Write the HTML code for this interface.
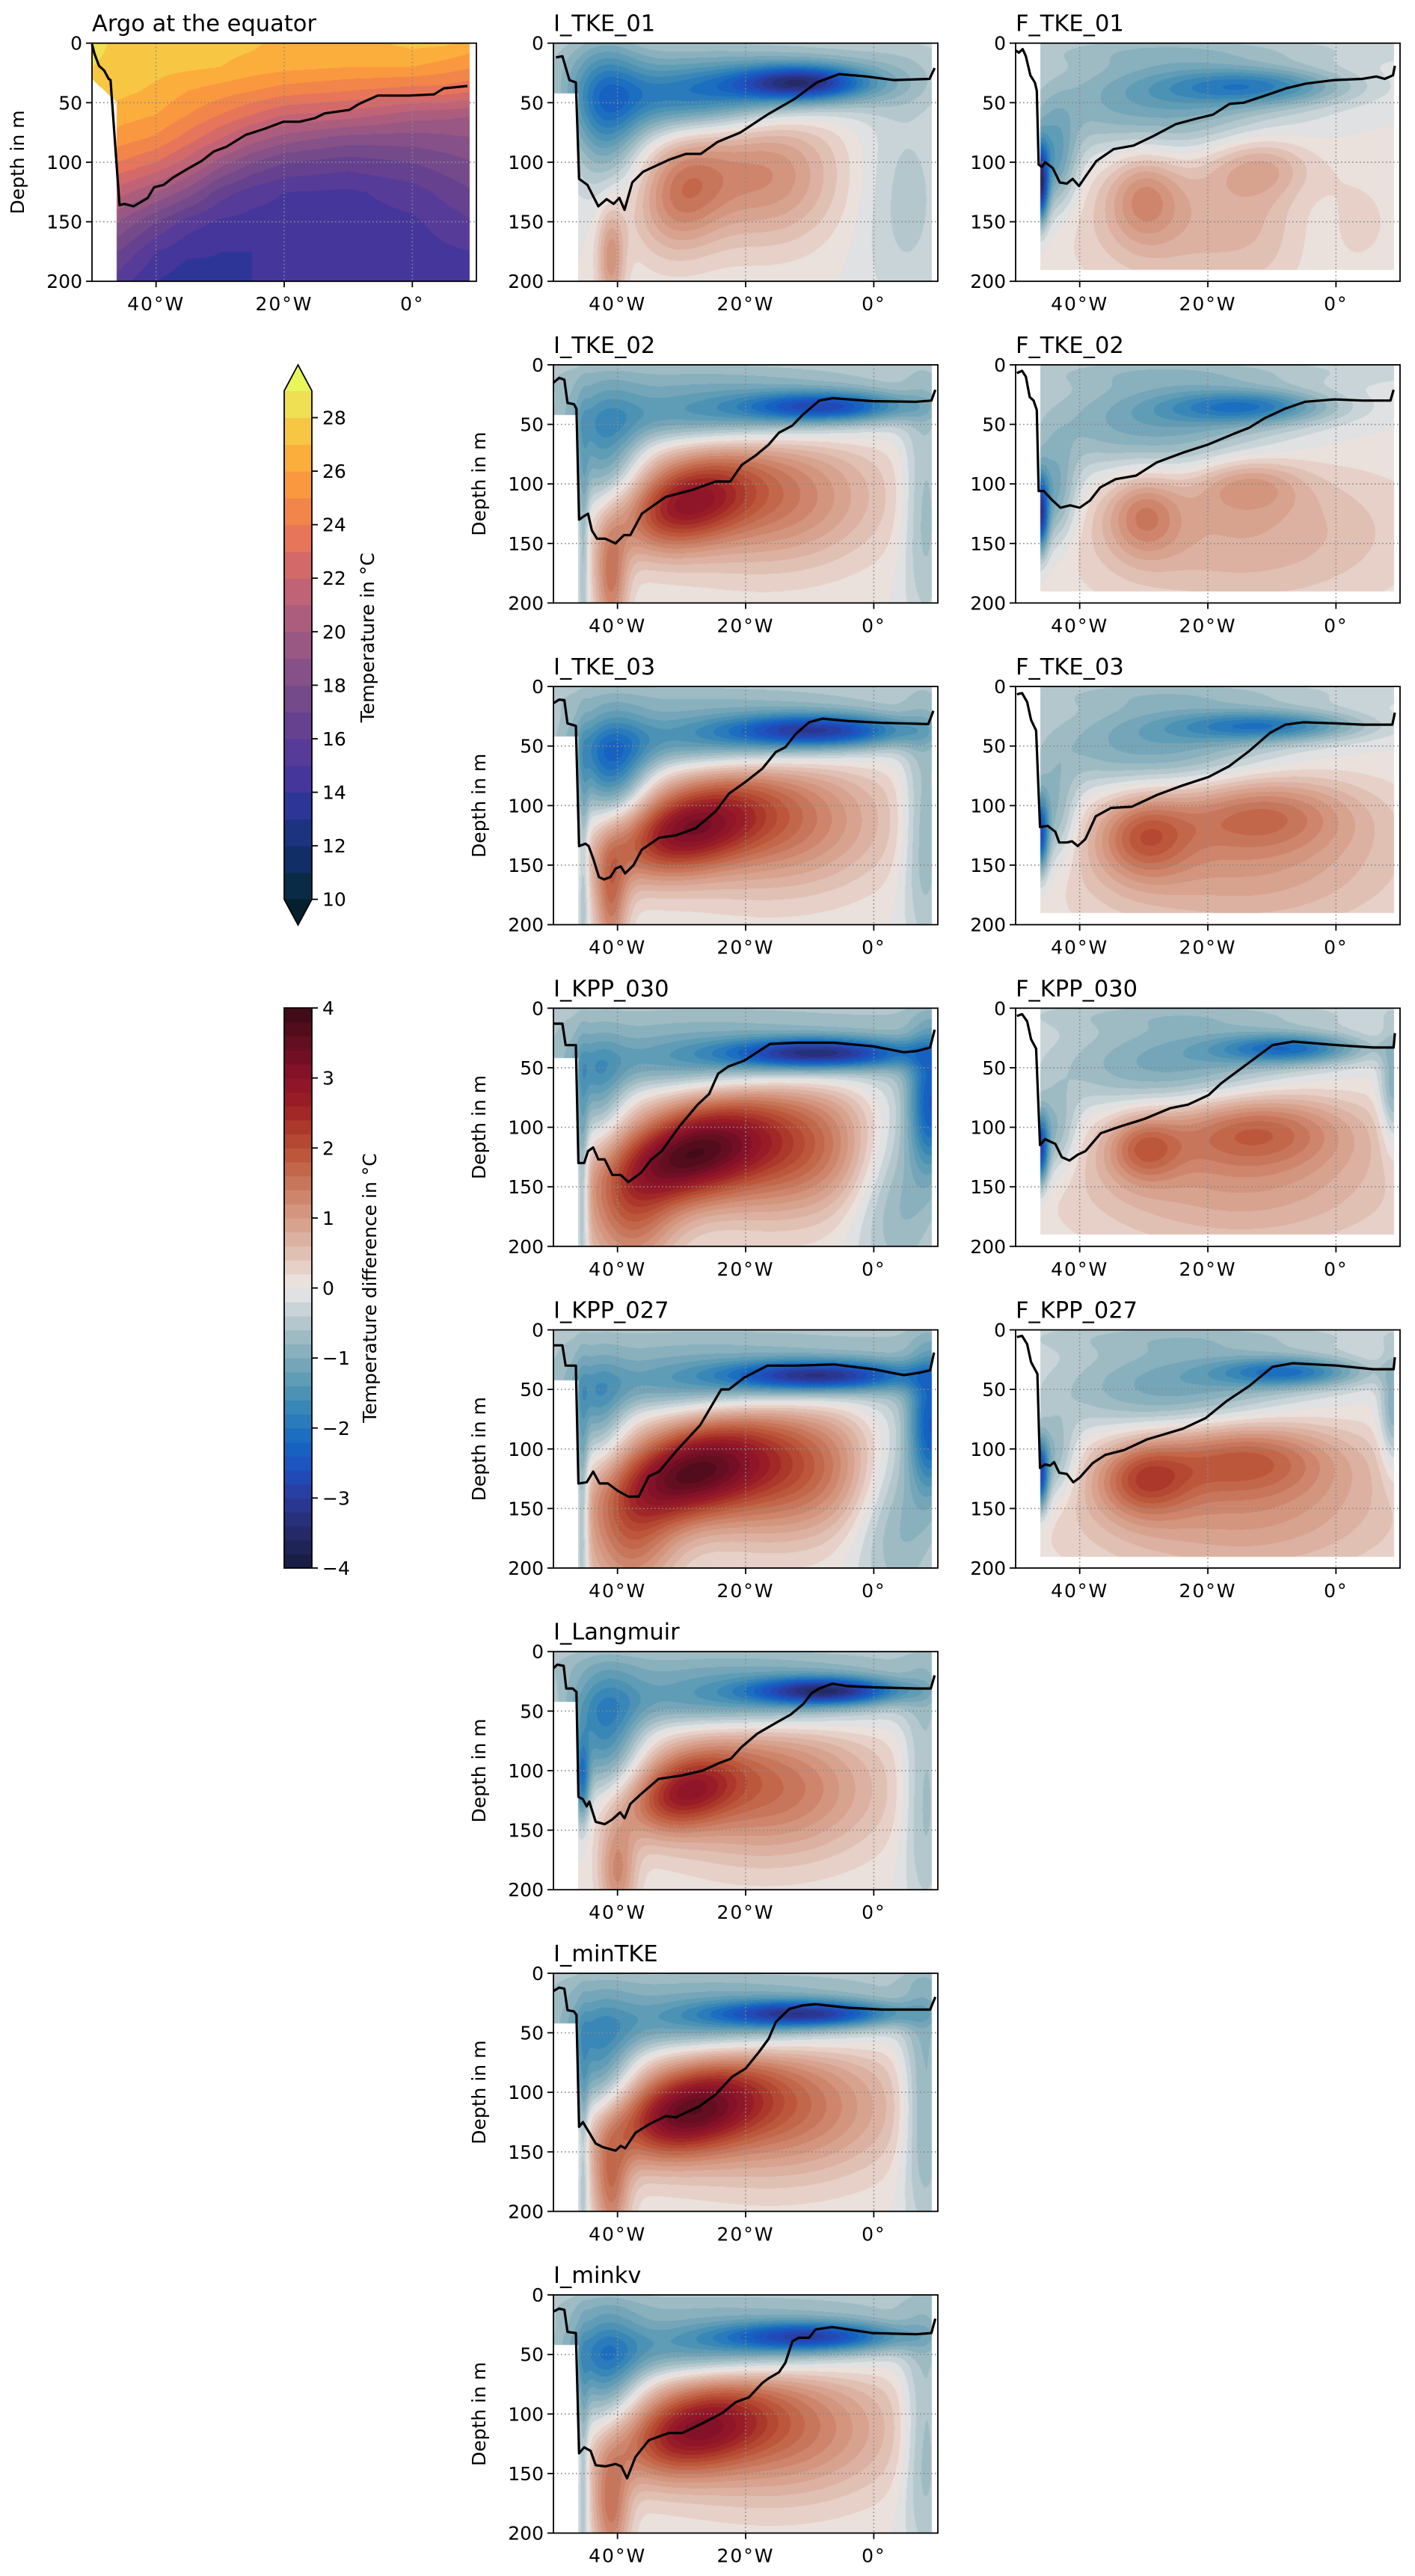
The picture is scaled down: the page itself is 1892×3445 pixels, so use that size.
<!DOCTYPE html>
<html><head><meta charset="utf-8">
<style>
html,body{margin:0;padding:0;background:#fff;}
#page{position:relative;width:1892px;height:3445px;overflow:hidden;background:#fff;}
canvas{position:absolute;}
#ov{position:absolute;left:0;top:0;}
text{font-family:"DejaVu Sans","Liberation Sans",sans-serif;fill:#000;}
</style></head>
<body>
<div id="page">
<svg id="ov" width="1892" height="3445"></svg>
</div>
<script>
// ---------------- data ----------------
const tempLevels = [10,11,12,13,14,15,16,17,18,19,20,21,22,23,24,25,26,27,28,29];
const tempTicks = [10,12,14,16,18,20,22,24,26,28];
const diffTicks = [-4,-3,-2,-1,0,1,2,3,4];
const lonTicks = [-40,-20,0];
const lonTickLabels = ["40°W","20°W","0°"];
const depthTicks = [0,50,100,150,200];

// Argo temperature grid (lon nodes x depth nodes)
const argoLon = [-50,-46,-40,-35,-30,-25,-20,-10,0,5,10];
const argoDepth = [0,20,40,60,80,100,125,150,175,200];
const argoTemp = [
 [28.6,27.6,27.5,27.5,27.4,27.2,26.6,26.5,27.3,27.2,26.5],
 [28.0,27.5,27.3,27.2,27.0,26.6,26.3,26.0,26.0,25.5,25.0],
 [27.5,27.3,26.8,26.0,25.5,25.0,24.5,24.0,23.5,23.5,23.0],
 [26.5,26.5,26.0,25.0,24.0,23.0,22.0,21.5,20.5,20.3,20.0],
 [25.5,25.5,24.8,23.5,22.0,20.5,19.5,18.5,18.5,18.7,19.0],
 [24.0,24.0,23.0,21.5,19.5,18.0,17.0,16.5,17.0,17.5,18.0],
 [21.5,21.5,20.0,18.5,16.5,15.5,15.0,14.8,15.5,16.3,17.0],
 [19.0,19.0,17.0,15.5,14.8,14.6,14.5,14.5,14.8,15.4,16.0],
 [17.0,17.0,15.0,14.2,14.0,14.0,14.0,14.2,14.5,14.8,15.0],
 [15.5,15.5,14.0,13.3,13.8,14.0,14.0,14.0,14.2,14.6,15.0]
];
const mld_Argo = [[-50,1],[-49.6,9],[-48.9,19],[-48.1,23],[-47.4,30],[-47.1,31],[-45.7,136],[-44.95,135],[-43.5,137],[-41.3,130],[-40.3,121],[-38.8,119],[-37.4,113],[-34.9,105],[-32.9,99],[-31,91],[-29,87],[-26,77],[-23.1,72],[-20.1,66],[-17.6,66],[-15.2,63],[-13.7,59],[-9.8,56],[-8.3,51],[-5.4,44],[-2.9,44],[-0.5,44],[3.4,43],[4.9,38],[8.6,36]];

// Blobs: [lon, depth, amplitude(°C), sigmaLon, sigmaDepth, tilt]
const blobs_I_TKE_01 = [[-11,33,-2.2,7,10,0],[-20,38,-1.3,16,16,0],[-30,55,-1.1,10,20,0],[-42,60,-1.4,4,40,0],[-25,10,-0.6,30,18,0],[-30,125,1.3,5,35,-1.0],[-17,110,1.2,8,40,0],[-41,180,1.1,1.5,30,0],[5,130,-0.5,5,70,0]];
const blobs_I_TKE_02 = [[-7,35,-2.1,9,9,0],[-25,42,-1.5,16,18,0],[-42,75,-1.3,4,35,0],[-25,8,-0.6,35,15,0],[-30,118,2.1,7,25,-1.2],[-17,110,1.5,12,40,0],[-41,180,1.4,1.8,35,0],[8,120,-0.8,2.5,70,0],[-45.3,150,-0.8,0.6,60,0]];
const blobs_I_TKE_03 = [[-8,37,-2.4,10,10,0],[-25,45,-1.5,16,18,0],[-41,70,-1.8,4,30,0],[-25,8,-0.6,35,15,0],[-30,122,2.4,8,25,-1.2],[-16,112,1.6,12,40,0],[-41,180,1.4,1.8,35,0],[8,120,-0.9,2.5,70,0],[-45.3,150,-0.8,0.6,60,0]];
const blobs_I_KPP_030 = [[-8,38,-2.6,10,9,0],[-25,45,-1.4,18,18,0],[9,80,-2.2,2.5,40,0],[4,150,-1.0,5,60,0],[-20,8,-0.6,40,18,0],[-30,125,2.9,8,27,-1.1],[-15,115,2.0,11,40,0],[-38,180,1.3,5,35,0],[-45.5,150,-1.2,0.7,60,0],[-43,70,-1.0,3,30,0]];
const blobs_I_KPP_027 = [[-8,38,-2.5,10,9,0],[-25,45,-1.4,18,18,0],[9,80,-2.2,2.5,40,0],[4,150,-1.0,5,60,0],[-20,8,-0.6,40,18,0],[-30,122,2.8,8,27,-1.1],[-15,115,2.0,11,40,0],[-38,180,1.3,5,35,0],[-45.5,150,-1.2,0.7,60,0],[-43,70,-1.0,3,30,0]];
const blobs_I_Langmuir = [[-7,33,-2.6,8,8,0],[-22,40,-1.5,16,18,0],[-42,70,-1.6,4,35,0],[-45.5,110,-1.6,0.8,25,0],[-20,8,-0.6,40,15,0],[-30,118,2.0,6,22,-1.2],[-17,115,1.6,12,40,0],[-40,185,1.2,2,30,0],[8,120,-0.8,2.5,70,0]];
const blobs_I_minTKE = [[-10,34,-2.4,10,8,0],[-25,42,-1.5,16,18,0],[-43,75,-1.4,4,35,0],[-20,8,-0.6,40,15,0],[-30,118,2.6,8,25,-1.1],[-16,112,1.7,13,40,0],[-41,180,1.4,2,35,0],[8,110,-1.1,2.5,70,0],[-45.3,150,-0.8,0.6,60,0]];
const blobs_I_minkv = [[-9,35,-2.2,10,9,0],[-25,45,-1.5,16,18,0],[-42,65,-1.4,4,35,0],[-20,8,-0.6,40,15,0],[-29,115,2.1,8,25,-1.1],[-16,112,1.6,13,40,0],[-41,180,1.4,2,35,0],[8,120,-0.9,2.5,70,0],[-45.3,150,-0.8,0.6,60,0]];
const blobs_F_TKE_01 = [[-12,36,-1.4,10,11,0],[-28,50,-1.2,14,32,0],[-46.2,118,-3.0,0.9,22,0],[-44,100,-1.2,2.5,30,0],[-20,5,-0.4,30,10,0],[-30,128,0.9,4,28,0],[-12,103,0.7,6,18,0],[-18,150,0.7,16,45,0],[-4,150,-0.3,4,40,0]];
const blobs_F_TKE_02 = [[-13,35,-1.5,9,10,0],[-28,50,-1.2,14,32,0],[-46.2,125,-2.7,0.9,22,0],[-44,110,-1.1,2.5,30,0],[-20,5,-0.4,30,10,0],[-30,125,1.0,4,25,0],[-14,100,0.8,6,16,0],[-15,140,0.8,18,45,0]];
const blobs_F_TKE_03 = [[-10,33,-1.6,10,9,0],[-28,50,-1.2,14,30,0],[-46.2,125,-2.3,0.9,22,0],[-44,110,-0.9,2.5,30,0],[-20,5,-0.4,30,10,0],[-30,125,1.3,5,25,0],[-12,105,1.1,10,22,0],[-15,145,1.0,18,45,0]];
const blobs_F_KPP_030 = [[-7,34,-1.8,8,9,0],[-25,50,-1.2,14,30,0],[-46.2,120,-2.5,0.9,20,0],[-44,105,-0.9,2.5,25,0],[9,70,-1.0,1.5,35,0],[-20,5,-0.4,30,10,0],[-30,117,1.2,4,20,0],[-13,100,1.3,10,22,0],[-15,140,1.0,18,45,0]];
const blobs_F_KPP_027 = [[-7,35,-1.7,8,9,0],[-25,50,-1.2,14,30,0],[-46.2,122,-2.5,0.9,20,0],[-44,108,-0.9,2.5,25,0],[9,70,-1.0,1.5,35,0],[-20,5,-0.4,30,10,0],[-30,125,1.4,5,22,0],[-15,105,1.3,10,22,0],[-15,145,1.1,18,45,0]];

// Mixed layer depth lines [lon, depth]
const mld_I_TKE_01 = [[-49.6,12],[-48.6,11],[-47.5,31],[-46.5,33],[-46,114],[-44.7,119],[-43,137],[-41.7,131],[-40.6,135],[-39.7,130],[-38.9,140],[-37.7,117],[-36,108],[-32,98],[-29.3,93],[-27,93],[-24.4,83],[-20.8,75],[-16.6,60],[-12.4,47],[-8.9,33],[-5.4,26],[-1.1,28],[3.1,31],[8.7,30],[9.5,21]];
const mld_I_TKE_02 = [[-50,15],[-49.1,11],[-48.3,12.5],[-47.8,32],[-46.8,33],[-46.4,37],[-46,130],[-45.2,127],[-44.6,125],[-44,139],[-43.2,146],[-41.9,146],[-40.3,150],[-39,143],[-38,143],[-36.2,125],[-32.5,111],[-28.3,105],[-24.7,98],[-22.4,98],[-20.6,84],[-18.4,76],[-16.4,67],[-14.8,57],[-12.7,51],[-11.1,42],[-8.5,30],[-6.4,28],[-0.2,30.5],[6.6,31],[9,30],[9.6,21]];
const mld_I_TKE_03 = [[-50,14],[-49.1,11],[-48.3,11.5],[-47.8,31],[-46.5,33],[-46,134],[-45,132],[-44.5,134],[-43.7,146],[-42.9,160],[-42.1,162],[-41.1,160],[-40.3,153],[-39.5,151],[-38.8,157],[-37.5,150],[-36.2,137],[-33.5,127],[-30.9,125],[-27.8,119],[-24.7,105],[-22.6,90],[-20,80],[-17.4,69],[-15.3,55],[-13.8,51],[-12.2,40],[-10.1,30],[-8,27],[-3.9,29],[1.3,30.5],[8.5,31.5],[9.3,20.5]];
const mld_I_KPP_030 = [[-50,13],[-48.6,13],[-48.1,31],[-46.5,31],[-46.1,130],[-45.2,130],[-44.6,120],[-43.8,117],[-43,127],[-42,127],[-40.8,140],[-39.5,140],[-38.3,146],[-36.3,138],[-34.7,127],[-33.1,120],[-30.3,99],[-27.5,81],[-25.7,72],[-24.3,55],[-22.7,49],[-20.2,44],[-18.2,37],[-16.2,30],[-12.2,29],[-6.2,29],[-0.1,32],[4.7,37],[6.7,36],[8.8,33],[9.5,18]];
const mld_I_KPP_027 = [[-50,13],[-48.6,13],[-48.1,30],[-46.5,30],[-46.1,129],[-44.8,128],[-43.8,119],[-42.8,129],[-41.5,129],[-40,135],[-38.3,140],[-36.7,140],[-35.1,123],[-33.5,119],[-30.7,101],[-27.1,80],[-23.8,50],[-22.6,50],[-20.2,40],[-16.6,30],[-12.2,30],[-6.2,29],[-0.1,33],[4.7,38],[7.1,36],[8.8,34],[9.4,19]];
const mld_I_Langmuir = [[-50,14],[-49.4,11],[-48.4,12],[-48,31],[-47,31],[-46.4,34],[-46.1,122],[-45.4,124],[-44.8,130],[-44.4,126],[-43.4,143],[-42,145],[-40.8,141],[-39.6,135],[-38.9,140],[-38,128],[-36.4,120],[-33.6,107],[-29.9,104],[-26.7,100],[-24.3,94],[-22.3,90],[-20.6,80],[-18.2,69],[-15,59],[-13,53],[-11,44],[-9.7,35],[-8.5,31],[-6.5,27],[-4.1,29],[-0.1,30],[6.7,31],[8.9,31],[9.5,20]];
const mld_I_minTKE = [[-50,15],[-49.1,12],[-48.3,13],[-47.8,31],[-46.8,32],[-46.4,35],[-46,129],[-45.4,125],[-44.4,134],[-43.4,143],[-42.3,146],[-40.3,149],[-39.5,145],[-38.8,147],[-37.2,134],[-35.1,127],[-32.5,120],[-30.9,121],[-27.3,112],[-24.7,102],[-22.1,87],[-20,80],[-17.9,66],[-16.4,55],[-15.3,41],[-13.2,30],[-11.1,27],[-9.1,26],[-3.9,29],[1.3,30.5],[8.8,30.5],[9.6,20]];
const mld_I_minkv = [[-50,14],[-49.1,11.5],[-48.3,12.5],[-47.8,31],[-46.5,32],[-46,133],[-45.2,128],[-44.2,131],[-43.4,143],[-41.9,144],[-40.3,142],[-39.4,144],[-38.5,154],[-37.2,136],[-35.1,122],[-32,116],[-29.9,116],[-26.8,108],[-23.6,99],[-21.5,90],[-19.5,86],[-17.4,74],[-16.4,70],[-14.8,65],[-13.8,57],[-12.7,39],[-11.7,36],[-10.1,36],[-9.1,29],[-6.5,27],[-0.2,32],[6.6,33],[9,32],[9.6,20]];
const mld_F_TKE_01 = [[-50,6],[-49.5,8],[-48.9,5],[-48.4,11],[-47.7,27],[-47,33],[-46.7,40],[-46.4,102],[-45.9,104],[-45.4,100],[-44.2,105],[-43.1,117],[-42,118],[-41.1,114],[-40.1,120],[-39.1,112],[-37.4,99],[-34.7,89],[-31.6,86],[-28.5,78],[-25,68],[-21.5,63],[-19.2,60],[-16.6,51],[-14.4,50],[-10.5,43],[-7.8,38],[-4.7,34],[-0.3,31],[4.1,30],[6.3,28],[7.6,30],[8.9,27],[9.2,19]];
const mld_F_TKE_02 = [[-49.8,7],[-49,5],[-48.4,10],[-47.8,27],[-47.2,30],[-46.7,38],[-46.4,106],[-45.6,106],[-44.4,113],[-43,120],[-41.5,118],[-40,120],[-38.4,114],[-36.8,103],[-34.4,96],[-31.2,93],[-28,82],[-24,74],[-20,67],[-16,58],[-13.6,53],[-11.2,45],[-8,37],[-4.8,31],[-0.2,29],[4.2,30],[8.5,30],[9,21]];
const mld_F_TKE_03 = [[-49.8,6.5],[-49,5.5],[-48.2,13],[-47.6,28],[-46.8,37],[-46.2,118],[-45,117],[-43.8,122],[-43.2,131],[-42,131],[-41.2,130],[-40.3,134],[-39.1,128],[-37.5,109],[-35.1,102],[-31.9,101],[-27.9,91],[-23.9,83],[-19.9,76],[-16.7,67],[-13.5,54],[-10.3,39],[-7.9,32],[-5.1,30],[0.2,31],[4.2,32],[8.8,32],[9.2,22]];
const mld_F_KPP_030 = [[-49.8,6.5],[-49,5],[-48.2,11],[-47.6,26],[-46.8,34],[-46.2,115],[-45.4,110],[-44.6,112],[-43.8,114],[-42.8,125],[-41.6,128],[-40.3,123],[-39.1,120],[-36.7,105],[-33.5,99],[-29.9,93],[-25.9,84],[-23.1,81],[-19.9,73],[-17.9,63],[-13.9,47],[-9.9,31],[-6.7,28],[0.2,31],[5.8,33],[9,33],[9.2,21]];
const mld_F_KPP_027 = [[-49.8,6],[-49,5],[-48.2,12],[-47.6,27],[-46.6,37],[-46.2,116],[-45.4,113],[-44.6,114],[-44,111],[-43.2,120],[-42,121],[-41,128],[-40,124],[-38,112],[-36,105],[-33.1,101],[-29.5,92],[-23.9,83],[-20.3,74],[-17.1,60],[-13.5,47],[-9.9,31],[-6.7,28],[0.2,30],[5.8,33],[9,33],[9.2,23]];

// ---------------- colormaps ----------------
const thermalColors = ["#04202e","#0a2b45","#112f66","#1c3480","#2d3697","#45369b","#563b99","#65418f","#754a8b","#865088","#995784","#ac5d7e","#c16376","#d4696a","#e6755a","#f2854a","#f9983f","#fbae3c","#f7c743","#efdf52","#e6f65b"];
const balAnch = [[-4.0,"#171a3d"],[-3.5,"#252a66"],[-3.0,"#2b3a9a"],[-2.6,"#1f4fbf"],[-2.2,"#1567c2"],[-1.8,"#2f82b8"],[-1.4,"#5597b4"],[-1.0,"#7eaab9"],[-0.6,"#a8c0c8"],[-0.2,"#d2dadd"],[0.0,"#ece8e6"],[0.2,"#e8d8d2"],[0.6,"#dfb8aa"],[1.0,"#d59c86"],[1.4,"#cb7e64"],[1.8,"#c05f42"],[2.2,"#b0402c"],[2.6,"#9d2027"],[3.0,"#8a1129"],[3.4,"#6c0f24"],[4.0,"#3b0a14"]];
function hex(h){return [parseInt(h.substr(1,2),16),parseInt(h.substr(3,2),16),parseInt(h.substr(5,2),16)];}
function balance(v){
  if(v<=balAnch[0][0]) return hex(balAnch[0][1]);
  for(let i=1;i<balAnch.length;i++){
    if(v<=balAnch[i][0]){
      const a=balAnch[i-1],b=balAnch[i],t=(v-a[0])/(b[0]-a[0]);
      const ca=hex(a[1]),cb=hex(b[1]);
      return [0,1,2].map(k=>Math.round(ca[k]+(cb[k]-ca[k])*t));
    }
  }
  return hex(balAnch[balAnch.length-1][1]);
}
const diffBand = [];
for(let i=0;i<40;i++){ diffBand.push(balance(-4+0.2*i+0.1)); }
function diffColor(v){
  let k=Math.floor((v+4)/0.2); if(k<0)k=0; if(k>39)k=39; return diffBand[k];
}
function thermColor(t){
  let k=Math.floor(t)-9; if(k<0)k=0; if(k>20)k=20; return hex(thermalColors[k]);
}

// ---------------- layout ----------------
const COLL=[123,740,1358], ROW0=57.7, RSTEP=430.2, AW=514, AH=318.5;
const panels = [
 {name:"Argo at the equator",id:"argo",row:0,col:0,type:"A",mld:mld_Argo},
 {name:"I_TKE_01",id:"i-tke-01",row:0,col:1,type:"I",blobs:blobs_I_TKE_01,mld:mld_I_TKE_01},
 {name:"F_TKE_01",id:"f-tke-01",row:0,col:2,type:"F",blobs:blobs_F_TKE_01,mld:mld_F_TKE_01},
 {name:"I_TKE_02",id:"i-tke-02",row:1,col:1,type:"I",blobs:blobs_I_TKE_02,mld:mld_I_TKE_02},
 {name:"F_TKE_02",id:"f-tke-02",row:1,col:2,type:"F",blobs:blobs_F_TKE_02,mld:mld_F_TKE_02},
 {name:"I_TKE_03",id:"i-tke-03",row:2,col:1,type:"I",blobs:blobs_I_TKE_03,mld:mld_I_TKE_03},
 {name:"F_TKE_03",id:"f-tke-03",row:2,col:2,type:"F",blobs:blobs_F_TKE_03,mld:mld_F_TKE_03},
 {name:"I_KPP_030",id:"i-kpp-030",row:3,col:1,type:"I",blobs:blobs_I_KPP_030,mld:mld_I_KPP_030},
 {name:"F_KPP_030",id:"f-kpp-030",row:3,col:2,type:"F",blobs:blobs_F_KPP_030,mld:mld_F_KPP_030},
 {name:"I_KPP_027",id:"i-kpp-027",row:4,col:1,type:"I",blobs:blobs_I_KPP_027,mld:mld_I_KPP_027},
 {name:"F_KPP_027",id:"f-kpp-027",row:4,col:2,type:"F",blobs:blobs_F_KPP_027,mld:mld_F_KPP_027},
 {name:"I_Langmuir",id:"i-langmuir",row:5,col:1,type:"I",blobs:blobs_I_Langmuir,mld:mld_I_Langmuir},
 {name:"I_minTKE",id:"i-mintke",row:6,col:1,type:"I",blobs:blobs_I_minTKE,mld:mld_I_minTKE},
 {name:"I_minkv",id:"i-minkv",row:7,col:1,type:"I",blobs:blobs_I_minkv,mld:mld_I_minkv}
];

const SVGNS="http://www.w3.org/2000/svg";
const ov=document.getElementById('ov');
const page=document.getElementById('page');
function el(tag,attrs,parent){
  const e=document.createElementNS(SVGNS,tag);
  for(const k in attrs) e.setAttribute(k,attrs[k]);
  (parent||ov).appendChild(e); return e;
}

function blobField(bl,lon,d){
  let v=0;
  for(const b of bl){
    const dx=(lon-b[0])/b[3];
    const zc=b[1]+b[5]*(lon-b[0]);
    const dz=(d-zc)/b[4];
    v+=b[2]*Math.exp(-0.5*(dx*dx+dz*dz));
  }
  return v;
}
function argoField(lon,d){
  let i=0; while(i<argoLon.length-2 && lon>argoLon[i+1]) i++;
  let j=0; while(j<argoDepth.length-2 && d>argoDepth[j+1]) j++;
  let tx=(lon-argoLon[i])/(argoLon[i+1]-argoLon[i]); tx=Math.max(0,Math.min(1,tx));
  let tz=(d-argoDepth[j])/(argoDepth[j+1]-argoDepth[j]); tz=Math.max(0,Math.min(1,tz));
  const a=argoTemp[j][i],b=argoTemp[j][i+1],c=argoTemp[j+1][i],e=argoTemp[j+1][i+1];
  return (a*(1-tx)+b*tx)*(1-tz)+(c*(1-tx)+e*tx)*tz;
}

panels.forEach(p=>{
  const L=COLL[p.col], T=ROW0+RSTEP*p.row;
  const xs=lon=>L+(lon+50)/60*AW;
  const ys=d=>T+d/200*AH;
  const cv=document.createElement('canvas');
  
  
  const W=AW, H=Math.round(AH);
  cv.width=W; cv.height=H;
  cv.style.left=L+'px'; cv.style.top=T+'px'; cv.style.width=W+'px'; cv.style.height=H+'px';
  page.insertBefore(cv, ov);
  const ctx=cv.getContext('2d');
  const img=ctx.createImageData(W,H);
  for(let j=0;j<H;j++){
    const d=(j+0.5)/H*200;
    for(let i=0;i<W;i++){
      const lon=-50+(i+0.5)/W*60;
      let col=null;
      if(p.type==="A"){
        const masked = lon>8.9 || (lon<-46.1 && d>30+(lon+50)*5);
        if(!masked) col=thermColor(argoField(lon,d));
      } else if(p.type==="I"){
        const masked = lon>9.1 || (lon<-46.1 && d>42);
        if(!masked) col=diffColor(blobField(p.blobs,lon,d));
      } else {
        const masked = lon>9.1 || lon<-46.2 || d>190;
        if(!masked) col=diffColor(blobField(p.blobs,lon,d));
      }
      const o=(j*W+i)*4;
      if(col){img.data[o]=col[0];img.data[o+1]=col[1];img.data[o+2]=col[2];}
      else {img.data[o]=255;img.data[o+1]=255;img.data[o+2]=255;}
      img.data[o+3]=255;
    }
  }
  ctx.putImageData(img,0,0);

  const g=el('g',{});
  
  
  lonTicks.forEach(lt=>{
    const gl=el('line',{x1:xs(lt),x2:xs(lt),y1:T,y2:T+AH,stroke:'#8a8a8a','stroke-width':1.6,'stroke-dasharray':'1.6,3.4'},g);
    
    
  });
  [50,100,150].forEach(dt=>{
    const gl=el('line',{x1:L,x2:L+AW,y1:ys(dt),y2:ys(dt),stroke:'#8a8a8a','stroke-width':1.6,'stroke-dasharray':'1.6,3.4'},g);
    
    
  });
  const pts=p.mld.map(q=>xs(q[0]).toFixed(1)+','+ys(q[1]).toFixed(1)).join(' ');
  const ln=el('polyline',{points:pts,fill:'none',stroke:'#000','stroke-width':3.2,'stroke-linejoin':'round'},g);
  
  
  const fr=el('rect',{x:L,y:T,width:AW,height:AH,fill:'none',stroke:'#000','stroke-width':1.8},g);
  
  
  lonTicks.forEach((lt,k)=>{
    el('line',{x1:xs(lt),x2:xs(lt),y1:T+AH,y2:T+AH+8,stroke:'#000','stroke-width':1.8},g);
    const t=el('text',{x:xs(lt),y:T+AH+39,'text-anchor':'middle','font-size':25,'letter-spacing':'2'},g);
    t.textContent=lonTickLabels[k];
    
    
  });
  depthTicks.forEach(dt=>{
    el('line',{x1:L-8,x2:L,y1:ys(dt),y2:ys(dt),stroke:'#000','stroke-width':1.8},g);
    const t=el('text',{x:L-13,y:ys(dt)+9,'text-anchor':'end','font-size':25},g);
    t.textContent=String(dt);
    
    
  });
  const tt=el('text',{x:L,y:T-16,'font-size':30.5},g);
  tt.textContent=p.name;
  
  
  if(p.col===0 || (p.col===1 && p.row>0)){
    const cx=L-91, cy=T+AH/2;
    const yl=el('text',{x:cx,y:cy,'text-anchor':'middle','font-size':25,transform:'rotate(-90 '+cx+' '+cy+')'},g);
    yl.textContent='Depth in m';
    
    
  }
});

// ---------------- colorbars ----------------
(function(){
  const x0=380, x1=417, yTop=522.7, yBot=1202.7;
  const g=el('g',{});
  
  
  const per=(yBot-yTop)/(tempLevels[tempLevels.length-1]-tempLevels[0]);
  const yT=t=>yBot-(t-tempLevels[0])*per;
  for(let k=0;k<tempLevels.length-1;k++){
    const c=thermColor(tempLevels[k]+0.5);
    el('rect',{x:x0,y:yT(tempLevels[k+1]),width:x1-x0,height:per+0.6,fill:'rgb('+c+')'},g);
  }
  const cHi=thermColor(29.5), cLo=thermColor(9.5);
  el('polygon',{points:`${x0},${yTop} ${(x0+x1)/2},488 ${x1},${yTop}`,fill:'rgb('+cHi+')'},g);
  el('polygon',{points:`${x0},${yBot} ${(x0+x1)/2},1237 ${x1},${yBot}`,fill:'rgb('+cLo+')'},g);
  el('polygon',{points:`${x0},${yTop} ${(x0+x1)/2},488 ${x1},${yTop} ${x1},${yBot} ${(x0+x1)/2},1237 ${x0},${yBot}`,fill:'none',stroke:'#000','stroke-width':1.8},g);
  tempTicks.forEach(t=>{
    el('line',{x1:x1,x2:x1+8,y1:yT(t),y2:yT(t),stroke:'#000','stroke-width':1.8},g);
    const tx=el('text',{x:x1+14,y:yT(t)+9,'font-size':25},g);
    tx.textContent=String(t);
    
    
  });
  const cy=(yTop+yBot)/2-10, cx=500;
  const lb=el('text',{x:cx,y:cy,'text-anchor':'middle','font-size':25,transform:'rotate(-90 '+cx+' '+cy+')'},g);
  lb.textContent='Temperature in °C';
  
  
})();
(function(){
  const x0=380, x1=417, yTop=1348, yBot=2097;
  const g=el('g',{});
  
  
  const yV=v=>yBot-(v+4)/8*(yBot-yTop);
  for(let k=0;k<40;k++){
    const c=diffBand[k];
    el('rect',{x:x0,y:yV(-4+0.2*(k+1)),width:x1-x0,height:(yBot-yTop)/40+0.6,fill:'rgb('+c+')'},g);
  }
  el('rect',{x:x0,y:yTop,width:x1-x0,height:yBot-yTop,fill:'none',stroke:'#000','stroke-width':1.8},g);
  diffTicks.forEach(v=>{
    el('line',{x1:x1,x2:x1+8,y1:yV(v),y2:yV(v),stroke:'#000','stroke-width':1.8},g);
    const tx=el('text',{x:x1+14,y:yV(v)+9,'font-size':25},g);
    tx.textContent=v<0?('\u2212'+Math.abs(v)):String(v);
    
    
  });
  const cy=(yTop+yBot)/2, cx=503;
  const lb=el('text',{x:cx,y:cy,'text-anchor':'middle','font-size':25,transform:'rotate(-90 '+cx+' '+cy+')'},g);
  lb.textContent='Temperature difference in °C';
  
  
})();
</script>
</body></html>
